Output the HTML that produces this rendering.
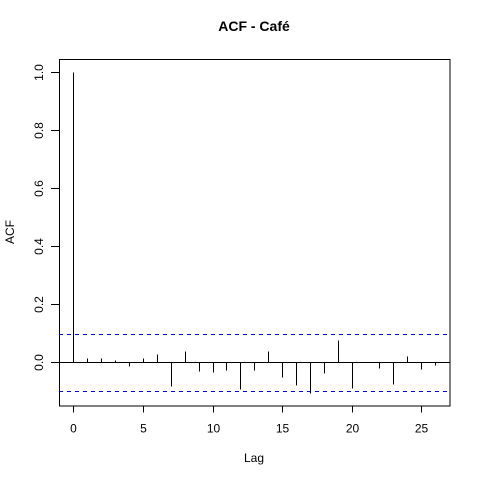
<!DOCTYPE html>
<html><head><meta charset="utf-8"><style>body{margin:0;background:#fff}svg{display:block}text{font-family:"Liberation Sans",sans-serif;font-size:12px}line,rect{shape-rendering:crispEdges}</style></head>
<body>
<svg id="chart" width="480" height="480" xmlns="http://www.w3.org/2000/svg"></svg>
<script>
const lags=[0,1,2,3,4,5,6,7,8,9,10,11,12,13,14,15,16,17,18,19,20,21,22,23,24,25,26];
const acf=[1,0.017,0.014,0.007,-0.013,0.014,0.029,-0.081,0.041,-0.030,-0.033,-0.026,-0.092,-0.026,0.041,-0.050,-0.078,-0.104,-0.035,0.076,-0.088,0.0,-0.019,-0.074,0.021,-0.023,-0.009];
const ci=[0.0965];
const xTicks=[0,5,10,15,20,25];
const yTicks=[0,0.2,0.4,0.6,0.8,1.0];
const L=59,R=449.5,T=59,B=405.5;
const xmin=-1.04,xmax=27.04,ymin=-0.148,ymax=1.044;
const X=v=>Math.round(L+(v-xmin)/(xmax-xmin)*(R-L))+0.5;
const Y=v=>Math.round(B-(v-ymin)/(ymax-ymin)*(B-T))+0.5;
const svg=document.getElementById('chart');
function mk(tag,attrs,name,txt){const e=document.createElementNS('http://www.w3.org/2000/svg',tag);for(const k in attrs)e.setAttribute(k,attrs[k]);


if(txt!==undefined)e.textContent=txt;svg.appendChild(e);return e;}
mk('rect',{x:L+0.5,y:T+0.5,width:R-L,height:B-T,fill:'none',stroke:'#000','stroke-width':1},'plot-box');
mk('line',{x1:L,x2:R,y1:Y(0),y2:Y(0),stroke:'#000'},'zero-line');
mk('line',{x1:L,x2:R,y1:Y(ci[0]),y2:Y(ci[0]),stroke:'#0000ff','stroke-dasharray':'4,4'},'upper-ci-line');
mk('line',{x1:L,x2:R,y1:Y(-ci[0]),y2:Y(-ci[0]),stroke:'#0000ff','stroke-dasharray':'4,4'},'lower-ci-line');
lags.forEach((l,i)=>{mk('line',{x1:X(l),x2:X(l),y1:Y(0),y2:Y(acf[i]),stroke:'#000'},'acf-bar-lag-'+l);});
xTicks.forEach(t=>{mk('line',{x1:X(t),x2:X(t),y1:B,y2:B+7,stroke:'#000'},'x-tick');
mk('text',{x:X(t),y:B+27,'text-anchor':'middle'},'x-tick-label',String(t));});
yTicks.forEach(t=>{mk('line',{x1:L-8,x2:L,y1:Y(t),y2:Y(t),stroke:'#000'},'y-tick');
mk('text',{x:0,y:0,'text-anchor':'middle',transform:`translate(43,${Y(t)}) rotate(-90)`},'y-tick-label',t.toFixed(1));});
mk('text',{x:254,y:31,'text-anchor':'middle','font-weight':'bold','style':'font-size:14px'},'chart-title','ACF - Café');
mk('text',{x:254,y:462,'text-anchor':'middle'},'x-axis-title','Lag');
mk('text',{x:0,y:0,'text-anchor':'middle',transform:'translate(14,232) rotate(-90)'},'y-axis-title','ACF');
</script>
</body></html>
